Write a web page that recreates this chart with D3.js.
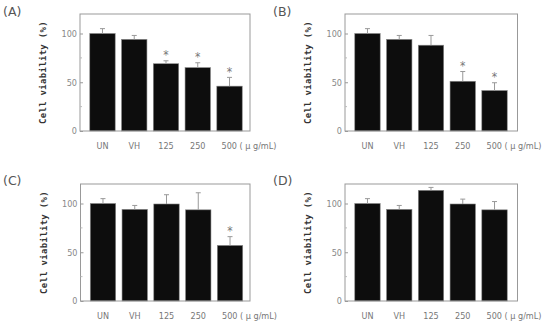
<!DOCTYPE html>
<html><head><meta charset="utf-8">
<script src="https://cdn.jsdelivr.net/npm/d3@7"></script>
<style>body{margin:0;background:#fff}svg{display:block}</style>
</head><body>
<svg id="c" width="543" height="321"></svg>
<script>
const categories = ["UN", "VH", "125", "250", "500"];
const panelLabels = ["(A)", "(B)", "(C)", "(D)"];
const valuesA = [100, 94, 69, 65, 46];
const errorsA = [5, 4, 3, 5, 9];
const starsA = [false, false, true, true, true];
const valuesB = [100, 94, 88, 51, 41.5];
const errorsB = [5, 4, 10, 10, 8];
const starsB = [false, false, false, true, true];
const valuesC = [100, 94, 99.5, 93.5, 57];
const errorsC = [5, 4, 9.5, 17.5, 9];
const starsC = [false, false, false, false, true];
const valuesD = [100, 94, 113.5, 99.5, 93.5];
const errorsD = [5, 4, 3, 5, 8.5];
const starsD = [false, false, false, false, false];
const yTicks = [0, 50, 100];
const yMinorTicks = [25, 75];
const yLabel = "Cell viability (%)";
const unitLabel = " ( μ g/mL)";

const panels = [
  {label: panelLabels[0], v: valuesA, e: errorsA, s: starsA, x0: 80, x1: 250, y0: 14, y1: 131, lx: 3, ly: 16},
  {label: panelLabels[1], v: valuesB, e: errorsB, s: starsB, x0: 345, x1: 517.5, y0: 14, y1: 131, lx: 273, ly: 16},
  {label: panelLabels[2], v: valuesC, e: errorsC, s: starsC, x0: 80.5, x1: 250, y0: 184, y1: 301, lx: 3, ly: 185},
  {label: panelLabels[3], v: valuesD, e: errorsD, s: starsD, x0: 345, x1: 517.5, y0: 184, y1: 301, lx: 273, ly: 185}
];

const svg = d3.select("#c");
const font = "'DejaVu Sans Condensed', 'Liberation Sans Narrow', sans-serif";

panels.forEach(p => {
  const g = svg.append("g");
  const y = d3.scaleLinear().domain([0, 120]).range([p.y1, p.y0]);
  const x = d3.scaleBand().domain(categories)
    .range([p.x0 + 6.6, p.x0 + 165.4]).paddingInner(0.2).paddingOuter(0.1);

  // panel label
  g.append("text").attr("x", p.lx).attr("y", p.ly)
    .attr("font-family", "'DejaVu Sans', sans-serif").attr("font-size", 12.5)
    .attr("fill", "#555").text(p.label);

  // bars
  g.selectAll("rect.bar").data(p.v).join("rect")
    .attr("x", (d, i) => x(categories[i]))
    .attr("width", x.bandwidth())
    .attr("y", d => y(d))
    .attr("height", d => y(0) - y(d))
    .attr("fill", "#0d0d0d").attr("stroke", "#888").attr("stroke-width", 0.6);

  // error bars
  p.v.forEach((d, i) => {
    const cx = x(categories[i]) + x.bandwidth() / 2;
    g.append("line").attr("x1", cx).attr("x2", cx)
      .attr("y1", y(d)).attr("y2", y(d + p.e[i]))
      .attr("stroke", "#999").attr("stroke-width", 1);
    g.append("line").attr("x1", cx - 2.5).attr("x2", cx + 2.5)
      .attr("y1", y(d + p.e[i])).attr("y2", y(d + p.e[i]))
      .attr("stroke", "#999").attr("stroke-width", 1);
    if (p.s[i]) {
      g.append("text").attr("x", cx).attr("y", y(d + p.e[i]) - 1.5)
        .attr("text-anchor", "middle").attr("font-family", font)
        .attr("font-size", 12).attr("fill", "#777").text("*");
    }
  });

  // frame
  g.append("rect").attr("x", p.x0).attr("y", p.y0)
    .attr("width", p.x1 - p.x0).attr("height", p.y1 - p.y0)
    .attr("fill", "none").attr("stroke", "#999").attr("stroke-width", 1);

  // y axis (ticks inward)
  const ax = g.append("g").attr("transform", `translate(${p.x0},0)`)
    .call(d3.axisRight(y).tickValues(yTicks).tickSize(3).tickFormat(d3.format("d")));
  ax.select(".domain").remove();
  ax.selectAll("line").attr("stroke", "#999");
  ax.selectAll("text").attr("x", -3).attr("text-anchor", "end")
    .attr("font-family", font).attr("font-size", 9).attr("fill", "#888");
  g.selectAll("line.minor").data(yMinorTicks).join("line")
    .attr("x1", p.x0).attr("x2", p.x0 + 2)
    .attr("y1", d => y(d)).attr("y2", d => y(d))
    .attr("stroke", "#bbb");

  // x labels
  categories.forEach((c, i) => {
    const cx = x(c) + x.bandwidth() / 2;
    const last = i === categories.length - 1;
    g.append("text").attr("x", last ? cx - 8 : cx).attr("y", p.y1 + 18)
      .attr("text-anchor", last ? "start" : "middle")
      .attr("font-family", font).attr("font-size", 9).attr("fill", "#777")
      .text(last ? c + unitLabel : c);
  });

  // y label
  g.append("text")
    .attr("transform", `translate(${p.x0 - 34},${(p.y0 + p.y1) / 2}) rotate(-90)`)
    .attr("text-anchor", "middle")
    .attr("font-family", "'DejaVu Sans Mono', monospace").attr("font-weight", "bold")
    .attr("font-size", 9).attr("letter-spacing", 0.3).attr("fill", "#333")
    .text(yLabel);
});
</script>
</body></html>
